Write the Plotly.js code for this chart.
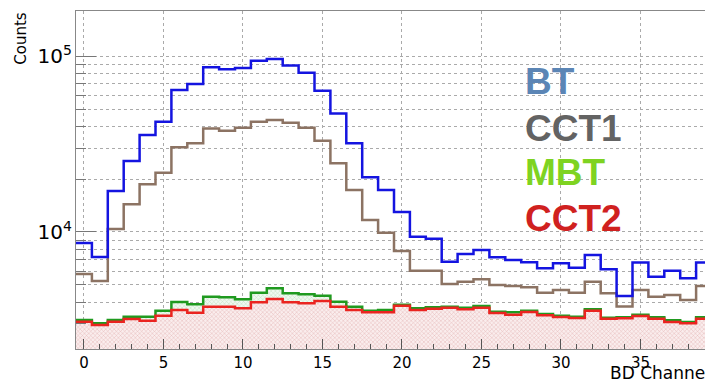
<!DOCTYPE html>
<html>
<head>
<meta charset="utf-8">
<script src="https://cdn.plot.ly/plotly-3.0.1.min.js"></script>
<style>html,body{margin:0;padding:0;background:#fff;}#chart{width:705px;height:381px;}</style>
</head>
<body>
<div id="chart"></div>
<script>
// BD channel numbers (bin centres)
const channels = [0,1,2,3,4,5,6,7,8,9,10,11,12,13,14,15,16,17,18,19,20,21,22,23,24,25,26,27,28,29,30,31,32,33,34,35,36,37,38,39];

const countsBT = [8660,7210,17100,25300,35600,42300,64100,69300,86300,84000,85500,94000,96200,88500,80400,63500,47200,31900,20500,17300,13000,9400,9160,6780,7500,7900,7180,6930,6730,6220,6640,6270,7400,6140,4330,6700,5570,6030,5450,6700];

const countsCCT1 = [5770,5270,10400,14400,18700,21700,30300,31900,38800,37600,39100,42300,43300,41800,39100,33000,24600,17300,11700,9900,7800,6030,6030,5070,5220,5380,5000,4930,4850,4520,4680,4520,5220,4490,3770,4680,4290,4380,4110,4930];

const countsMBT = [3162,3027,3162,3303,3303,3570,4000,3883,4289,4256,4150,4519,4786,4486,4426,4345,4017,3763,3570,3603,3860,3685,3735,3763,3715,3800,3526,3498,3570,3420,3343,3303,3640,3260,3275,3389,3275,3148,3080,3275];

const countsCCT2 = [3092,2962,3092,3205,3133,3343,3603,3479,3763,3763,3685,3987,4162,3987,3935,4056,3763,3603,3498,3498,3812,3603,3668,3715,3640,3715,3466,3389,3511,3363,3289,3245,3570,3216,3234,3333,3216,3080,3027,3216];

const legendLabels = ['BT','CCT1','MBT','CCT2'];
const legendColors = ['#5b85b5','#636363','#7ed321','#d0211f'];

// step-histogram helpers: bin edges from bin centres
function edges(c){ const e = c.map(v => v - 0.5); e.push(c[c.length-1] + 0.5); return e; }
function stepY(v){ const y = v.slice(); y.push(v[v.length-1]); return y; }

const xe = edges(channels);
const floorVal = channels.map(() => 100);

function baseTrace(){
  return {x: xe, y: stepY(floorVal), mode:'lines', line:{shape:'hv', width:0, color:'rgba(0,0,0,0)'}, hoverinfo:'skip', showlegend:false};
}

const traces = [
  baseTrace(),
  {x: xe, y: stepY(countsMBT), mode:'lines', name:'MBT', line:{shape:'hv', color:'#1f9a1f', width:2.5},
   fill:'tonexty', fillcolor:'rgba(225,242,225,0.9)',
   fillpattern:{shape:'x', size:3, fgcolor:'#b5dcb5', bgcolor:'#f0f8f0', solidity:0.25}},
  baseTrace(),
  {x: xe, y: stepY(countsCCT2), mode:'lines', name:'CCT2', line:{shape:'hv', color:'#ea2420', width:2.5},
   fill:'tonexty', fillcolor:'rgba(245,225,225,0.9)',
   fillpattern:{shape:'x', size:3, fgcolor:'#e2aeae', bgcolor:'#faeded', solidity:0.25}},
  {x: xe, y: stepY(countsCCT1), mode:'lines', name:'CCT1', line:{shape:'hv', color:'#8c7363', width:2.5}},
  {x: xe, y: stepY(countsBT), mode:'lines', name:'BT', line:{shape:'hv', color:'#1414e0', width:2.5}}
];

const legendY = [0.79, 0.652, 0.522, 0.386];
const annotations = legendLabels.map((t, i) => ({
  text: '<b>' + t + '</b>', xref:'paper', yref:'paper', x:0.7107, y:legendY[i],
  xanchor:'left', yanchor:'middle', showarrow:false,
  font:{family:'Liberation Sans, Arial, sans-serif', size:37, color:legendColors[i]}
}));
annotations.push({text:'Counts', xref:'paper', yref:'paper', x:-0.087, y:1.003, xanchor:'center', yanchor:'top',
  textangle:-90, showarrow:false, font:{family:'DejaVu Sans, sans-serif', size:15, color:'#000'}});
annotations.push({text:'BD Channel', xref:'paper', yref:'paper', x:0.846, y:-0.072, xanchor:'left', yanchor:'middle',
  showarrow:false, font:{family:'DejaVu Sans, sans-serif', size:17, color:'#000'}});

const layout = {
  width:705, height:381,
  margin:{l:76, r:0, t:11, b:32, pad:0},
  paper_bgcolor:'#fff', plot_bgcolor:'#fff',
  showlegend:false,
  xaxis:{
    range:[-0.5, 39.06], dtick:5, tick0:0,
    ticks:'inside', ticklen:10, tickcolor:'#555', tickwidth:1,
    showline:true, linecolor:'#888', linewidth:1, mirror:true,
    showgrid:true, gridcolor:'#aaa', griddash:'dot', gridwidth:1,
    zeroline:false,
    minor:{dtick:1, ticks:'inside', ticklen:5, tickcolor:'#555', showgrid:false},
    tickfont:{family:'DejaVu Sans, sans-serif', size:15, color:'#000'}
  },
  yaxis:{
    type:'log', range:[3.335, 5.256], dtick:1, exponentformat:'power',
    ticks:'inside', ticklen:20, tickcolor:'#777', tickwidth:1,
    showline:true, linecolor:'#888', linewidth:1,
    showgrid:true, gridcolor:'#aaa', griddash:'dot', gridwidth:1,
    zeroline:false,
    minor:{dtick:'D1', ticks:'inside', ticklen:10, tickcolor:'#777', showgrid:true, gridcolor:'#aaa', griddash:'dot'},
    tickfont:{family:'DejaVu Sans, sans-serif', size:16, color:'#000'}
  },
  annotations: annotations
};

Plotly.newPlot('chart', traces, layout, {staticPlot:true, displayModeBar:false});
</script>
</body>
</html>
